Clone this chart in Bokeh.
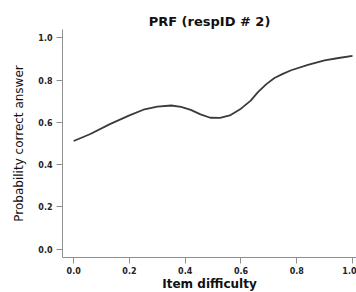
from bokeh.plotting import figure
from bokeh.models import Range1d, FixedTicker, PrintfTickFormatter
from bokeh.embed import file_html
from bokeh.resources import INLINE

# Person response function
item_difficulty = [0.0, 0.06, 0.13, 0.20, 0.25, 0.30, 0.35, 0.385, 0.42, 0.455,
                   0.49, 0.525, 0.56, 0.60, 0.635, 0.66, 0.69, 0.72, 0.75, 0.78,
                   0.84, 0.90, 0.95, 1.0]
prob_correct = [0.512, 0.545, 0.592, 0.633, 0.660, 0.675, 0.680, 0.673, 0.659, 0.638,
                0.622, 0.621, 0.633, 0.665, 0.703, 0.742, 0.780, 0.810, 0.830, 0.847,
                0.872, 0.894, 0.905, 0.915]
tick_values = [0.0, 0.2, 0.4, 0.6, 0.8, 1.0]

title_text = "PRF (respID # 2)"
x_title = "Item difficulty"
y_title = "Probability correct answer"

p = figure(frame_width=294, frame_height=228,
           x_range=Range1d(-0.04, 1.0143), y_range=Range1d(-0.04, 1.04),
           output_backend="svg", toolbar_location=None,
           min_border_left=62, min_border_right=0,
           min_border_top=29, min_border_bottom=35)

p.title.text = title_text
p.title.align = "center"
p.title.text_font = "DejaVu Sans"
p.title.text_font_style = "bold"
p.title.text_font_size = "13px"
p.title.text_color = "#111111"
p.title.standoff = 2

p.line(item_difficulty, prob_correct, line_color="#3a3a3a", line_width=1.8)

p.xgrid.visible = False
p.ygrid.visible = False
p.outline_line_color = None
p.background_fill_color = "white"
p.border_fill_color = "white"

for ax in (p.xaxis[0], p.yaxis[0]):
    ax.ticker = FixedTicker(ticks=tick_values)
    ax.formatter = PrintfTickFormatter(format="%.1f")
    ax.minor_tick_line_color = None
    ax.axis_line_color = "#8f8f8f"
    ax.major_tick_line_color = "#8f8f8f"
    ax.major_tick_in = 0
    ax.major_tick_out = 6
    ax.major_label_text_font = "DejaVu Sans"
    ax.major_label_text_font_style = "bold"
    ax.major_label_text_font_size = "8px"
    ax.major_label_text_color = "#222222"
    ax.major_label_standoff = 4

p.xaxis[0].major_label_standoff = 3
p.xaxis[0].axis_label = x_title
p.xaxis[0].axis_label_text_font = "DejaVu Sans"
p.xaxis[0].axis_label_text_font_style = "bold"
p.xaxis[0].axis_label_text_font_size = "12px"
p.xaxis[0].axis_label_text_color = "#111111"
p.xaxis[0].axis_label_standoff = 0

p.yaxis[0].axis_label = y_title
p.yaxis[0].axis_label_text_font = "DejaVu Sans"
p.yaxis[0].axis_label_text_font_style = "normal"
p.yaxis[0].axis_label_text_font_size = "12px"
p.yaxis[0].axis_label_text_color = "#111111"
p.yaxis[0].axis_label_standoff = 9

open("out.html", "w").write(file_html(p, INLINE))
